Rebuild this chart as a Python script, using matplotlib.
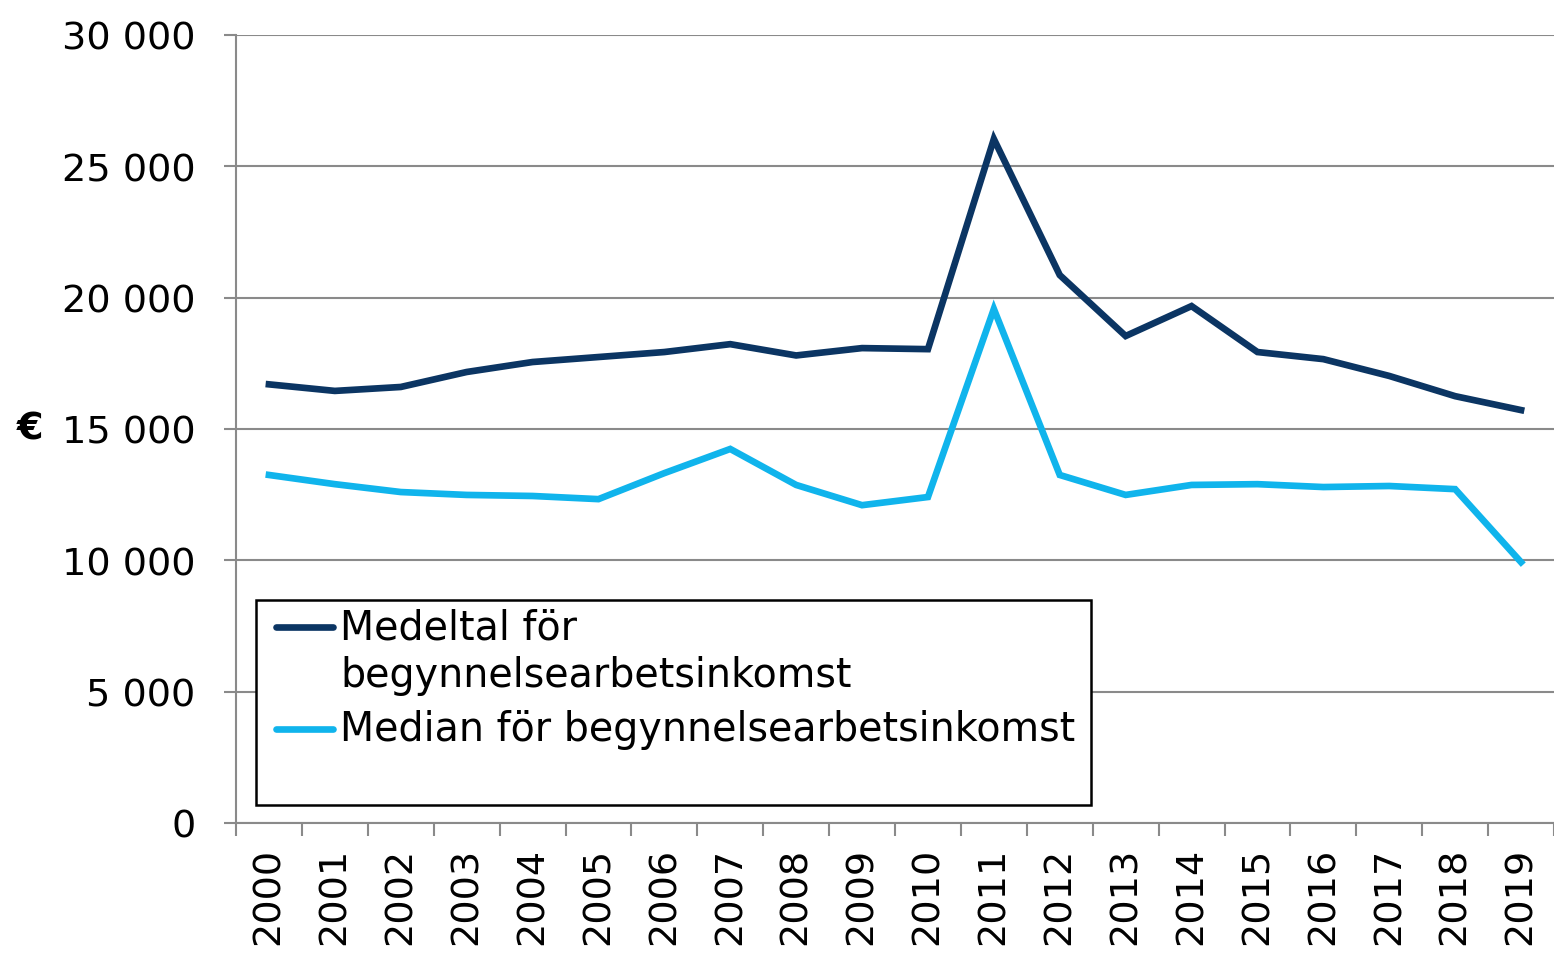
import matplotlib.pyplot as plt
from matplotlib.ticker import FuncFormatter, FixedLocator
from matplotlib.patches import Rectangle
from matplotlib.lines import Line2D

# Data.
years = [str(y) for y in range(2000, 2020)]
medeltal = [16700, 16450, 16600, 17170, 17550, 17740, 17930, 18230, 17800, 18080,
            18040, 26040, 20860, 18540, 19680, 17930, 17660, 17020, 16250, 15720]
median = [13250, 12900, 12600, 12490, 12450, 12330, 13320, 14240, 12870, 12100,
          12410, 19570, 13250, 12490, 12870, 12900, 12790, 12830, 12710, 9930]
labels = ['Medeltal för\nbegynnelsearbetsinkomst', 'Median för begynnelsearbetsinkomst']
colors = ['#0b3563', '#10b4ec']
yticks = [0, 5000, 10000, 15000, 20000, 25000, 30000]

grid_col = '#8a8a8a'
fs = 27.5
lfs = 28.5

fig = plt.figure(figsize=(15.54, 9.54), dpi=100)
ax = fig.add_axes([236/1554, 1-824/954, 1318/1554, 788/954])

x = list(range(len(years)))
for vals, c in zip([medeltal, median], colors):
    ax.plot(x, vals, color=c, lw=4.8, solid_joinstyle='miter', zorder=3)

# Axis limits.
ax.set_xlim(-0.5, len(years) - 0.5)
ax.set_ylim(0, 30000)

# Y axis.
ax.set_yticks(yticks)
ax.yaxis.set_major_formatter(FuncFormatter(lambda v, p: f'{int(v):,}'.replace(',', ' ')))
ax.yaxis.grid(True, color=grid_col, lw=1.5)
ax.tick_params(axis='y', length=9, width=1.5, color=grid_col, pad=20, labelsize=fs)

# X axis: labels at centers, ticks between categories.
ax.set_xticks(x)
ax.set_xticklabels(years, rotation=90)
ax.xaxis.set_minor_locator(FixedLocator([i + 0.5 for i in range(-1, len(years))]))
ax.tick_params(axis='x', which='major', length=0, pad=17, labelsize=fs)
ax.tick_params(axis='x', which='minor', length=9, width=1.5, color=grid_col)

for s in ['top', 'right']:
    ax.spines[s].set_visible(False)
for s in ['left', 'bottom']:
    ax.spines[s].set_color(grid_col)
    ax.spines[s].set_linewidth(1.5)

ax.set_ylabel('€', rotation=0, fontsize=fs, fontweight='bold', va='center', ha='center')
ax.yaxis.set_label_coords(-0.156, 0.5)

# Legend drawn by hand: box has extra room, handle sits on the first text line.
ax.add_patch(Rectangle((0.0152, 0.0228), 0.6335, 0.2602, transform=ax.transAxes,
                       fill=True, facecolor='white', edgecolor='black', lw=1.8, zorder=4))
line_step = 0.0615
y_top = 0.2487
for lab, c in zip(labels, colors):
    ax.add_line(Line2D([0.0303, 0.0736], [y_top, y_top], transform=ax.transAxes,
                       color=c, lw=4.8, solid_capstyle='round', zorder=5))
    for i, part in enumerate(lab.split('\n')):
        ax.text(0.0789, y_top - i * line_step, part, transform=ax.transAxes,
                fontsize=lfs, va='center', ha='left', zorder=5)
    y_top -= line_step * (lab.count('\n') + 1) + 0.0069

fig.savefig('out.png', dpi=100)
